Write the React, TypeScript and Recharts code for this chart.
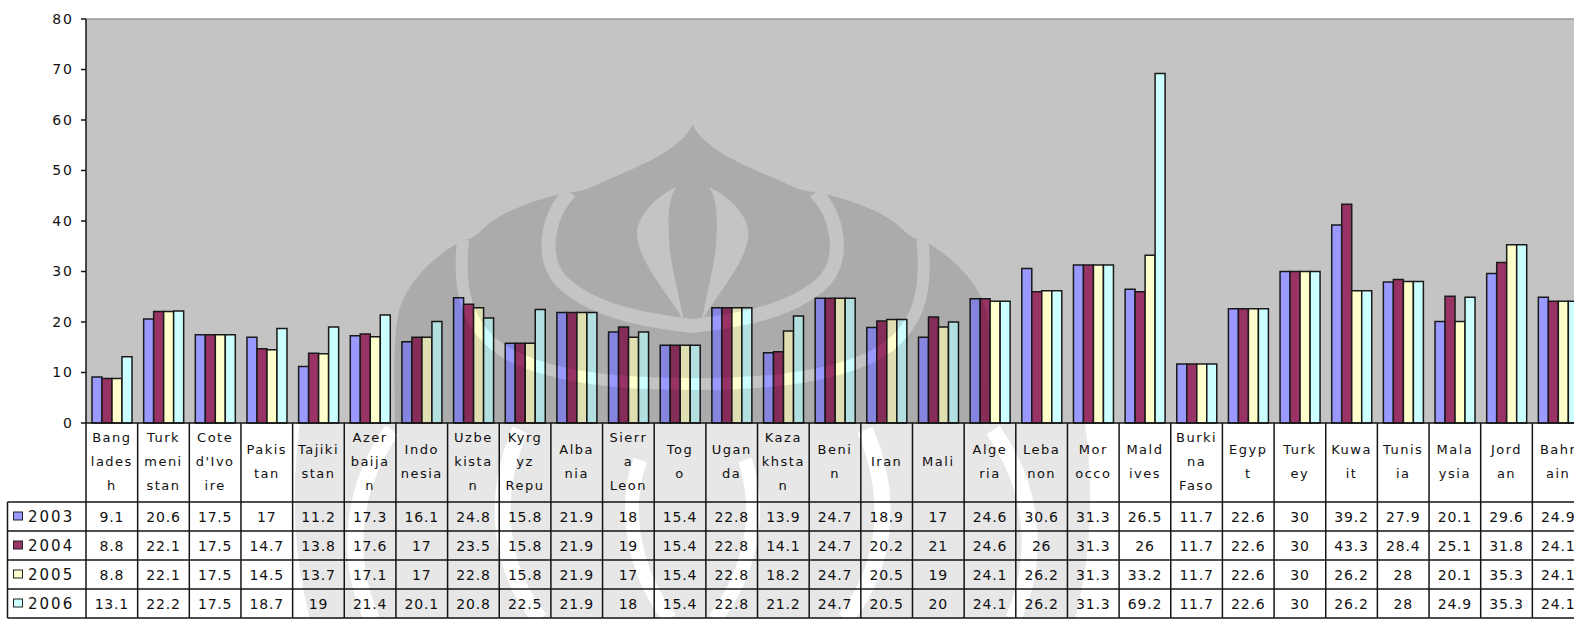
import { BarChart, Bar, XAxis, YAxis, CartesianGrid, ReferenceLine } from 'recharts';

// country names as they wrap in the data table header
const categories = [
  'Bang|lades|h', 'Turk|meni|stan', "Cote|d'Ivo|ire", 'Pakis|tan', 'Tajiki|stan',
  'Azer|baija|n', 'Indo|nesia', 'Uzbe|kista|n', 'Kyrg|yz|Repu', 'Alba|nia',
  'Sierr|a|Leon', 'Tog|o', 'Ugan|da', 'Kaza|khsta|n', 'Beni|n',
  'Iran', 'Mali', 'Alge|ria', 'Leba|non', 'Mor|occo',
  'Mald|ives', 'Burki|na|Faso', 'Egyp|t', 'Turk|ey', 'Kuwa|it',
  'Tunis|ia', 'Mala|ysia', 'Jord|an', 'Bahr|ain',
];

const v2003 = [9.1, 20.6, 17.5, 17, 11.2, 17.3, 16.1, 24.8, 15.8, 21.9, 18, 15.4, 22.8, 13.9, 24.7, 18.9, 17, 24.6, 30.6, 31.3, 26.5, 11.7, 22.6, 30, 39.2, 27.9, 20.1, 29.6, 24.9];
const v2004 = [8.8, 22.1, 17.5, 14.7, 13.8, 17.6, 17, 23.5, 15.8, 21.9, 19, 15.4, 22.8, 14.1, 24.7, 20.2, 21, 24.6, 26, 31.3, 26, 11.7, 22.6, 30, 43.3, 28.4, 25.1, 31.8, 24.1];
const v2005 = [8.8, 22.1, 17.5, 14.5, 13.7, 17.1, 17, 22.8, 15.8, 21.9, 17, 15.4, 22.8, 18.2, 24.7, 20.5, 19, 24.1, 26.2, 31.3, 33.2, 11.7, 22.6, 30, 26.2, 28, 20.1, 35.3, 24.1];
const v2006 = [13.1, 22.2, 17.5, 18.7, 19, 21.4, 20.1, 20.8, 22.5, 21.9, 18, 15.4, 22.8, 21.2, 24.7, 20.5, 20, 24.1, 26.2, 31.3, 69.2, 11.7, 22.6, 30, 26.2, 28, 24.9, 35.3, 24.1];

const years = ['2003', '2004', '2005', '2006'];
const yTicks = [0, 10, 20, 30, 40, 50, 60, 70, 80];

const seriesValues = [v2003, v2004, v2005, v2006];
const colors = ['#9999FF', '#993366', '#FFFFCC', '#CCFFFF'];

const data = categories.map((name, i) => ({
  name,
  y2003: v2003[i],
  y2004: v2004[i],
  y2005: v2005[i],
  y2006: v2006[i],
}));

// layout
const W = 1600;
const H = 619;
const LEFT = 86;
const RIGHT_M = 16;
const AXIS_Y = 423;
const BAND = (W - LEFT - RIGHT_M) / categories.length;
const ROWS = [502, 531, 560, 589, 618];
const LINE = '#151515';
const FONT = 'DejaVu Sans, Verdana, sans-serif';

function TableColumn(props: any) {
  const { x, payload, index } = props;
  const left = x - BAND / 2;
  const right = x + BAND / 2;
  const lines = String(payload.value).split('|');
  const headMid = 461;
  return (
    <g fontFamily={FONT} fill="#111">
      <line x1={left} y1={AXIS_Y} x2={left} y2={ROWS[4]} stroke={LINE} strokeWidth={1.5} />
      {index === categories.length - 1 && (
        <line x1={right} y1={AXIS_Y} x2={right} y2={ROWS[4]} stroke={LINE} strokeWidth={1.5} />
      )}
      {ROWS.map((ry) => (
        <line key={ry} x1={left} y1={ry} x2={right} y2={ry} stroke={LINE} strokeWidth={1.5} />
      ))}
      {lines.map((ln, k) => (
        <text key={k} x={x} y={headMid + (k - (lines.length - 1) / 2) * 24} textAnchor="middle"
          dominantBaseline="central" fontSize={13} letterSpacing={1.5}>{ln}</text>
      ))}
      {seriesValues.map((vals, r) => (
        <text key={r} x={x} y={(ROWS[r] + ROWS[r + 1]) / 2} textAnchor="middle"
          dominantBaseline="central" fontSize={14} letterSpacing={0.8}>{vals[index]}</text>
      ))}
      {index === 0 && (
        <g>
          <line x1={7.5} y1={ROWS[0]} x2={7.5} y2={ROWS[4]} stroke={LINE} strokeWidth={1.5} />
          {ROWS.map((ry) => (
            <line key={ry} x1={7.5} y1={ry} x2={left} y2={ry} stroke={LINE} strokeWidth={1.5} />
          ))}
          {years.map((yr, r) => {
            const cy = (ROWS[r] + ROWS[r + 1]) / 2;
            return (
              <g key={yr}>
                <rect x={13.5} y={cy - 4.5} width={9} height={8} fill={colors[r]} stroke="#222" strokeWidth={1} />
                <text x={28} y={cy} dominantBaseline="central" fontSize={15} letterSpacing={2}>{yr}</text>
              </g>
            );
          })}
        </g>
      )}
    </g>
  );
}

// mirror helper for the symmetric watermark
const CX = 692.7;
const mx = (x: number) => (2 * CX - x).toFixed(1);

function Watermark() {
  const dome =
    `M ${CX} 125 C 680 150 640 166 607 180 C 592 187 582 192 570 192 C 540 198 502 210 482 230 ` +
    `C 474 238 468 240 463 240 C 430 258 405 285 398 315 C 392 350 395 390 395 423 ` +
    `L ${mx(395)} 423 C ${mx(395)} 390 ${mx(392)} 350 ${mx(398)} 315 C ${mx(405)} 285 ${mx(430)} 258 ${mx(463)} 240 ` +
    `C ${mx(468)} 240 ${mx(474)} 238 ${mx(482)} 230 C ${mx(502)} 210 ${mx(540)} 198 ${mx(570)} 192 ` +
    `C ${mx(582)} 192 ${mx(592)} 187 ${mx(607)} 180 C ${mx(640)} 166 ${mx(680)} 150 ${CX} 125 Z`;
  const outerBand =
    `M 463 240 C 458 290 465 330 510 355 C 560 380 630 384 ${CX} 384 ` +
    `C ${mx(630)} 384 ${mx(560)} 380 ${mx(510)} 355 C ${mx(465)} 330 ${mx(458)} 290 ${mx(463)} 240`;
  const innerBand =
    `M 570 192 C 548 215 540 255 560 280 C 590 310 640 320 ${CX} 326 ` +
    `C ${mx(640)} 320 ${mx(590)} 310 ${mx(560)} 280 C ${mx(540)} 255 ${mx(548)} 215 ${mx(570)} 192`;
  const petalL = 'M 676 187 C 650 200 636 220 637 236 C 640 265 670 295 684 322 C 680 300 672 270 670 250 C 667 220 668 200 676 187 Z';
  const petalR =
    `M ${mx(676)} 187 C ${mx(650)} 200 ${mx(636)} 220 ${mx(637)} 236 C ${mx(640)} 265 ${mx(670)} 295 ${mx(684)} 322 ` +
    `C ${mx(680)} 300 ${mx(672)} 270 ${mx(670)} 250 C ${mx(667)} 220 ${mx(668)} 200 ${mx(676)} 187 Z`;
  const base = 'M 300 423 L 1085 423 C 1095 500 1090 560 1075 619 L 310 619 C 295 560 290 500 300 423 Z';
  return (
    <svg width={1574} height={619} style={{ position: 'absolute', left: 0, top: 0, pointerEvents: 'none' }}>
      <defs>
        <mask id="wm-top">
          <rect x={0} y={0} width={1574} height={619} fill="#000" />
          <path d={dome} fill="#fff" />
          <path d={outerBand} fill="none" stroke="#000" strokeWidth={12} />
          <path d={innerBand} fill="none" stroke="#000" strokeWidth={14} />
          <path d={petalL} fill="#000" />
          <path d={petalR} fill="#000" />
        </mask>
        <mask id="wm-bottom">
          <rect x={0} y={0} width={1574} height={619} fill="#000" />
          <path d={base} fill="#fff" />
          <path d="M 392 430 C 350 490 345 560 372 619" fill="none" stroke="#000" strokeWidth={16} />
          <path d="M 993 430 C 1035 490 1040 560 1013 619" fill="none" stroke="#000" strokeWidth={16} />
          <path d="M 520 430 C 490 500 500 570 540 619" fill="none" stroke="#000" strokeWidth={16} />
          <path d="M 865 430 C 895 500 885 570 845 619" fill="none" stroke="#000" strokeWidth={16} />
          <path d="M 640 460 C 620 520 640 580 670 619" fill="none" stroke="#000" strokeWidth={14} />
          <path d="M 745 460 C 765 520 745 580 715 619" fill="none" stroke="#000" strokeWidth={14} />
        </mask>
      </defs>
      <rect x={0} y={0} width={1574} height={AXIS_Y} fill="#000" opacity={0.12} mask="url(#wm-top)" />
      <rect x={0} y={AXIS_Y} width={1574} height={619 - AXIS_Y} fill="#000" opacity={0.09} mask="url(#wm-bottom)" />
    </svg>
  );
}

export default function App() {
  return (
    <div style={{ position: 'fixed', left: 0, top: 0, width: 1574, height: 619, overflow: 'hidden', background: '#fff' }}>
      <BarChart
        width={W}
        height={H}
        data={data}
        margin={{ top: 19, right: RIGHT_M, bottom: 0, left: 0 }}
        barGap={0}
        barCategoryGap={6}
      >
        <CartesianGrid fill="#C4C4C4" horizontal={false} vertical={false} />
        <ReferenceLine y={80} stroke="#9a9a9a" strokeWidth={1.5} />
        <XAxis
          dataKey="name"
          height={H - AXIS_Y}
          interval={0}
          tickLine={false}
          axisLine={{ stroke: LINE, strokeWidth: 1.5 }}
          tick={<TableColumn />}
        />
        <YAxis
          width={LEFT}
          domain={[0, 80]}
          ticks={yTicks}
          interval={0}
          tickSize={5}
          tickMargin={7}
          tickLine={{ stroke: LINE, strokeWidth: 1.5 }}
          axisLine={{ stroke: LINE, strokeWidth: 1.5 }}
          tick={{ fontSize: 14, fill: '#111', fontFamily: FONT, letterSpacing: 2 }}
        />
        <Bar dataKey="y2003" fill={colors[0]} stroke="#1a1a1a" strokeWidth={1.5} isAnimationActive={false} />
        <Bar dataKey="y2004" fill={colors[1]} stroke="#1a1a1a" strokeWidth={1.5} isAnimationActive={false} />
        <Bar dataKey="y2005" fill={colors[2]} stroke="#1a1a1a" strokeWidth={1.5} isAnimationActive={false} />
        <Bar dataKey="y2006" fill={colors[3]} stroke="#1a1a1a" strokeWidth={1.5} isAnimationActive={false} />
      </BarChart>
      <Watermark />
    </div>
  );
}
